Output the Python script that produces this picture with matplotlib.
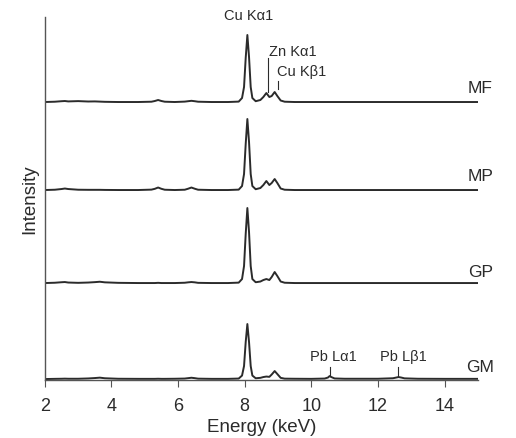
import matplotlib
matplotlib.use("Agg")
import matplotlib.pyplot as plt
import numpy as np

plt.rcParams['font.family'] = ['Liberation Sans', 'DejaVu Sans']

# energy sampling points (keV), denser around the peaks
energy = [2.0, 2.3, 2.5, 2.6, 2.7, 3.0, 3.3, 3.5, 3.65, 3.8, 4.2, 4.8, 5.2, 5.3, 5.4, 5.5, 5.6,
          5.9, 6.2, 6.3, 6.4, 6.5, 6.6, 7.0, 7.5, 7.82, 7.92, 7.98, 8.03, 8.08, 8.13, 8.18, 8.23,
          8.33, 8.47, 8.56, 8.65, 8.74, 8.81, 8.9, 8.98, 9.08, 9.2, 9.5, 10.0, 10.4, 10.5,
          10.55, 10.6, 10.7, 11.0, 12.0, 12.45, 12.55, 12.62, 12.7, 12.8, 13.2, 14.0, 15.0]

mf = [0, 0.3, 0.8, 1.0, 0.6, 0.9, 0.5, 0.6, 0.4, 0.2, 0, 0, 0.3, 1.0, 2.0, 1.0, 0.3,
      0, 0.4, 0.8, 1.2, 0.8, 0.3, 0, 0, 0.4, 4, 15, 44, 67, 45, 15, 4,
      0.8, 2, 5, 9, 5, 6, 10, 6, 1.5, 0.3, 0, 0, 0, 0,
      0, 0, 0, 0, 0, 0, 0, 0, 0, 0, 0, 0, 0]
mp = [0, 0.3, 1.0, 1.5, 1.0, 0.3, 0.2, 0.2, 0.2, 0.1, 0, 0, 0.4, 1.2, 2.5, 1.2, 0.3,
      0, 0.3, 1.3, 2.5, 1.3, 0.3, 0, 0, 0.4, 4, 16, 46, 71, 48, 16, 4,
      0.8, 2, 5, 9, 5, 7, 11, 7, 1.5, 0.3, 0, 0, 0, 0,
      0, 0, 0, 0, 0, 0, 0, 0, 0, 0, 0, 0, 0]
gp = [0, 0.3, 0.8, 1.0, 0.5, 0.2, 0.5, 0.9, 1.3, 0.7, 0.2, 0, 0, 0, 0.2, 0, 0,
      0, 0.3, 0.7, 1.0, 0.7, 0.2, 0, 0, 0.4, 4, 17, 49, 75, 51, 17, 4,
      0.8, 1.5, 3, 4, 3, 6, 11, 7, 1.5, 0.3, 0, 0, 0, 0,
      0, 0, 0, 0, 0, 0, 0, 0, 0, 0, 0, 0, 0]
gm = [0, 0.2, 0.3, 0.4, 0.3, 0.3, 0.6, 1.0, 1.4, 0.8, 0.3, 0.2, 0.2, 0.2, 0.3, 0.2, 0.2,
      0.3, 0.5, 0.9, 1.3, 0.9, 0.4, 0.2, 0.2, 0.5, 3.5, 13, 37, 55, 37, 13, 3.5,
      0.8, 1.2, 2, 2.5, 2.2, 4.5, 8, 5, 1.2, 0.4, 0.3, 0.2, 0.5, 1.5,
      3, 2, 0.6, 0.3, 0.3, 0.8, 1.5, 2, 1.5, 0.7, 0.3, 0.2, 0.2]

samples = ["MF", "MP", "GP", "GM"]
series = [mf, mp, gp, gm]
offsets = [277, 189, 96, 0]
label_y = [15, 15, 12, 13]

fig = plt.figure(figsize=(5.16, 4.39), dpi=100)
ax = fig.add_axes([0.087, 0.132, 0.839, 0.827])

col = '#2b2b2b'
for name, vals, off, ly in zip(samples, series, offsets, label_y):
    ax.plot(energy, np.array(vals) + off, color=col, lw=1.4)
    ax.text(15.07, off + ly, name, ha='center', va='center', fontsize=12.5,
            color=col, clip_on=False)

# peak annotations
ann = 10.5
ax.text(8.12, 364, "Cu K\u03b11", ha='center', va='center', fontsize=ann, color=col, clip_on=False)
ax.text(9.45, 328, "Zn K\u03b11", ha='center', va='center', fontsize=ann, color=col)
ax.plot([8.7, 8.7], [287, 321], color=col, lw=0.8)
ax.text(9.72, 308, "Cu K\u03b21", ha='center', va='center', fontsize=ann, color=col)
ax.plot([9.0, 9.0], [290, 298], color=col, lw=0.8)
ax.text(10.65, 23, "Pb L\u03b11", ha='center', va='center', fontsize=ann, color=col)
ax.plot([10.55, 10.55], [4, 12], color=col, lw=0.8)
ax.text(12.75, 23, "Pb L\u03b21", ha='center', va='center', fontsize=ann, color=col)
ax.plot([12.6, 12.6], [3, 12], color=col, lw=0.8)

ax.set_xlim(2, 15)
ax.set_ylim(-1, 362)
ax.set_xticks([2, 4, 6, 8, 10, 12, 14])
ax.set_yticks([])
ax.spines['top'].set_visible(False)
ax.spines['right'].set_visible(False)
for s in ['left', 'bottom']:
    ax.spines[s].set_color('#555555')
    ax.spines[s].set_linewidth(1.0)
ax.tick_params(axis='x', direction='out', length=5, colors='#555555', labelcolor=col,
               labelsize=13, pad=7)
ax.set_xlabel("Energy (keV)", fontsize=13.5, color=col, labelpad=3)
ax.set_ylabel("Intensity", fontsize=13.5, color=col, labelpad=5)

fig.savefig("out.png", dpi=100)
